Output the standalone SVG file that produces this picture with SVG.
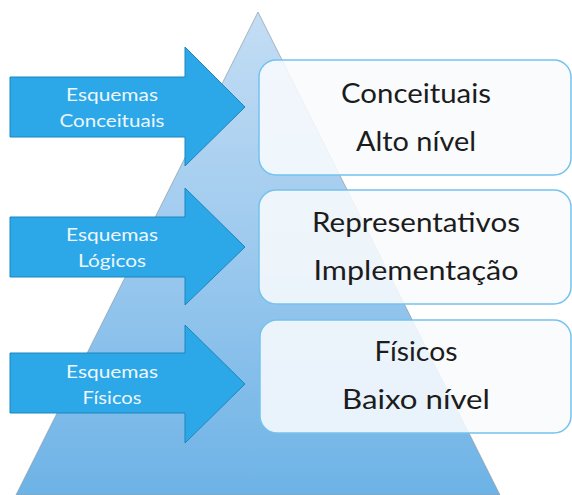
<svg xmlns="http://www.w3.org/2000/svg" width="572" height="495" viewBox="0 0 572 495">
  <defs>
    <linearGradient id="triGrad" x1="0" y1="12" x2="0" y2="495" gradientUnits="userSpaceOnUse">
      <stop offset="0" stop-color="#c4ddf4"/>
      <stop offset="0.5" stop-color="#9cc9ee"/>
      <stop offset="1" stop-color="#6db3e6"/>
    </linearGradient>
  </defs>
  <style>
    .tri { fill: url(#triGrad); stroke: #8e9ba6; stroke-width: 1; stroke-opacity: 0.7; }
    .arrow { fill: #2ca7e8; stroke: #1d86bd; stroke-width: 1; }
    .atext { font-family: Lato, "Open Sans", "DejaVu Sans", sans-serif; font-size: 18px; fill: #eef7fd; text-anchor: middle; }
    .box { fill: #f8fbfd; fill-opacity: 0.88; stroke: #74c2ee; stroke-width: 1.5; }
    .btext { font-family: Lato, "Open Sans", "DejaVu Sans", sans-serif; font-size: 27px; fill: #1c1c1c; text-anchor: middle; }
  </style>
  <rect width="572" height="495" fill="#ffffff"/>
  <g id="pyramid">
    <polygon class="tri" points="258,12 500,495 16,495"/>
  </g>
  <g id="arrow-conceituais">
    <path class="arrow" d="M10,77 H185 V47 L245,107 L185,166 V137 H10 Z"/>
    <text class="atext" x="112" y="101" textLength="92" lengthAdjust="spacingAndGlyphs">Esquemas</text>
    <text class="atext" x="112" y="127" textLength="105" lengthAdjust="spacingAndGlyphs">Conceituais</text>
  </g>
  <g id="arrow-logicos">
    <path class="arrow" d="M10,217 H185 V188 L245,247 L185,305 V277 H10 Z"/>
    <text class="atext" x="112" y="241" textLength="92" lengthAdjust="spacingAndGlyphs">Esquemas</text>
    <text class="atext" x="112" y="267" textLength="68" lengthAdjust="spacingAndGlyphs">Lógicos</text>
  </g>
  <g id="arrow-fisicos">
    <path class="arrow" d="M10,353 H185 V325 L245,384 L185,443 V413 H10 Z"/>
    <text class="atext" x="112" y="378" textLength="92" lengthAdjust="spacingAndGlyphs">Esquemas</text>
    <text class="atext" x="112" y="404" textLength="59" lengthAdjust="spacingAndGlyphs">Físicos</text>
  </g>
  <g id="box-conceituais">
    <rect class="box" x="259" y="60" width="312" height="115" rx="17" ry="17"/>
    <text class="btext" x="416" y="103" textLength="150" lengthAdjust="spacingAndGlyphs">Conceituais</text>
    <text class="btext" x="416" y="151" textLength="120" lengthAdjust="spacingAndGlyphs">Alto nível</text>
  </g>
  <g id="box-representativos">
    <rect class="box" x="259" y="190" width="312" height="114" rx="17" ry="17"/>
    <text class="btext" x="416" y="232" textLength="208" lengthAdjust="spacingAndGlyphs">Representativos</text>
    <text class="btext" x="416" y="280" textLength="205" lengthAdjust="spacingAndGlyphs">Implementação</text>
  </g>
  <g id="box-fisicos">
    <rect class="box" x="260" y="320" width="311" height="113" rx="17" ry="17"/>
    <text class="btext" x="416" y="361" textLength="83" lengthAdjust="spacingAndGlyphs">Físicos</text>
    <text class="btext" x="416" y="409" textLength="148" lengthAdjust="spacingAndGlyphs">Baixo nível</text>
  </g>
  <g id="connectors"/>
</svg>
